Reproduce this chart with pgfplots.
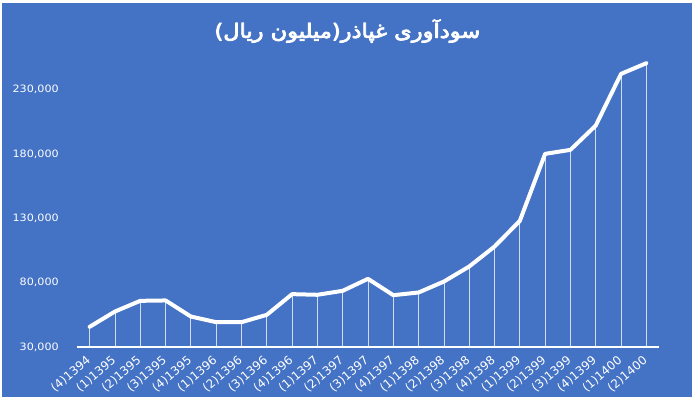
\documentclass[border=0pt]{standalone}
\usepackage{pgfplots}
\pgfplotsset{compat=1.18}
\usepackage{pgfplotstable}
\usepackage{fontspec}
\setmainfont{DejaVu Sans}
\newfontfamily\arabicfont[Script=Arabic]{DejaVu Sans}
\TeXXeTstate=1
\definecolor{bgblue}{HTML}{4472C4}
% heavier title: fill and stroke the glyphs in white
\newcommand{\strokeon}{\special{pdf:literal direct 1 1 1 RG 0.55 w 1 j 2 Tr}}
\newcommand{\strokeoff}{\special{pdf:literal direct 0 Tr}}

% quarterly profit, million rials
\pgfplotstableread{
x y
0 45700
1 57600
2 65900
3 66200
4 53700
5 49300
6 49300
7 55000
8 71100
9 70600
10 73700
11 83000
12 70300
13 72400
14 80900
15 92600
16 108100
17 128100
18 180200
19 183300
20 202200
21 242400
22 250700
}\profit

\begin{document}
\begin{tikzpicture}
  \fill[white] (0,0) rectangle (525pt,300pt);
  \fill[bgblue] (1.5pt,2.25pt) rectangle (519pt,297.75pt);
  \node[text=white, inner sep=0pt, xscale=1.14,
        font=\arabicfont\fontsize{14.8}{16}\selectfont]
    at (260.5pt,276.75pt) {\strokeon\beginR سودآوری غپاذر(میلیون ریال)\endR\strokeoff};
  \begin{axis}[
    at={(57.75pt,39.75pt)}, anchor=south west,
    scale only axis, width=436.5pt, height=217pt,
    xmin=-0.5, xmax=22.5, ymin=30000, ymax=255000,
    separate axis lines,
    axis x line*=bottom, axis y line*=left,
    y axis line style={draw=none},
    x axis line style={white, line width=0.8pt, -},
    major tick length=0pt,
    xtick=data,
    xticklabels={{(4)1394},{(1)1395},{(2)1395},{(3)1395},{(4)1395},{(1)1396},{(2)1396},{(3)1396},{(4)1396},{(1)1397},{(2)1397},{(3)1397},{(4)1397},{(1)1398},{(2)1398},{(3)1398},{(4)1398},{(1)1399},{(2)1399},{(3)1399},{(4)1399},{(1)1400},{(2)1400}},
    scaled y ticks=false,
    ytick={30000,80000,130000,180000,230000},
    yticklabels={{30,000},{80,000},{130,000},{180,000},{230,000}},
    yticklabel style={text=white, inner sep=0pt, anchor=east, xshift=-13.5pt,
      font=\fontsize{7.6}{9}\selectfont, xscale=1.1},
    xticklabel style={text=white, inner sep=0pt, anchor=east, xshift=-0.5pt, yshift=-9pt,
      font=\fontsize{8.9}{10}\selectfont, rotate=40},
  ]
    \addplot[ycomb, white, opacity=0.75, line width=0.6pt] table[x=x, y=y] {\profit};
    \addplot[white, line width=3pt, line join=round, line cap=round, mark=none] table[x=x, y=y] {\profit};
  \end{axis}
\end{tikzpicture}
\end{document}
